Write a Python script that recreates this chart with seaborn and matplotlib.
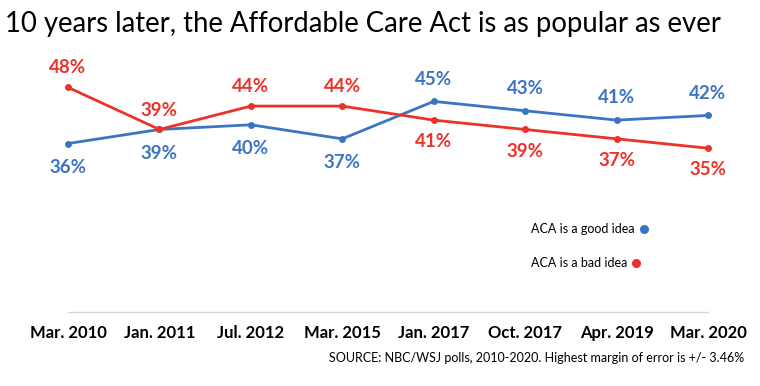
import pandas as pd
import matplotlib.pyplot as plt
import seaborn as sns

# Datos
polls = ["Mar. 2010", "Jan. 2011", "Jul. 2012", "Mar. 2015",
         "Jan. 2017", "Oct. 2017", "Apr. 2019", "Mar. 2020"]
good_idea = [36, 39, 40, 37, 45, 43, 41, 42]
bad_idea = [48, 39, 44, 44, 41, 39, 37, 35]

BLUE = "#3B74C2"
RED = "#EC3229"
W, H = 760, 386


def main():
    sns.set_style("white")
    plt.rcParams['font.family'] = ['Lato', 'DejaVu Sans']

    df = pd.DataFrame({
        "poll": polls * 2,
        "value": good_idea + bad_idea,
        "serie": ["good"] * len(polls) + ["bad"] * len(polls),
    })

    fig = plt.figure(figsize=(W / 100, H / 100), dpi=100)
    # area de trazado en pixeles: x 68..708, eje en y=312
    left, right = 68 / W, 708 / W
    bottom = 1 - 312 / H
    height = 60 * 4.68 / H
    ax = fig.add_axes([left, bottom, right - left, height])

    sns.lineplot(data=df, x="poll", y="value", hue="serie",
                 palette={"good": BLUE, "bad": RED}, hue_order=["good", "bad"],
                 marker="o", markersize=5, markeredgewidth=0, linewidth=2,
                 sort=False, legend=False, ax=ax, clip_on=False)

    ax.set_xlim(0, len(polls) - 1)
    ax.set_ylim(0, 60)
    for s in ["top", "right", "left"]:
        ax.spines[s].set_visible(False)
    ax.spines["bottom"].set_color("#D9D9D9")
    ax.spines["bottom"].set_linewidth(1)
    ax.set_yticks([])
    ax.set_xlabel("")
    ax.set_ylabel("")
    ax.tick_params(axis="x", direction="inout", length=7, width=1,
                   color="#D9D9D9", pad=6)
    ax.set_xticks(range(len(polls)))
    ax.set_xticklabels(polls, fontsize=12, fontweight="bold", color="black")

    # Etiquetas de valores
    for i, (g, b) in enumerate(zip(good_idea, bad_idea)):
        first_half = i < 4
        ax.annotate(f"{g}%", (i, g), xytext=(0, -17 if first_half else 16),
                    textcoords="offset points", ha="center", va="center",
                    fontsize=13.5, fontweight="bold", color=BLUE)
        ax.annotate(f"{b}%", (i, b), xytext=(0, 14 if first_half else -15.5),
                    textcoords="offset points", ha="center", va="center",
                    fontsize=13.5, fontweight="bold", color=RED)

    fig.text(5 / W, 1 - 24 / H, "10 years later, the Affordable Care Act is as popular as ever",
             fontsize=19.8, ha="left", va="center", color="black")
    fig.text(744 / W, 1 - 358 / H,
             "SOURCE: NBC/WSJ polls, 2010-2020. Highest margin of error is +/- 3.46%",
             fontsize=9, ha="right", va="center", color="black")

    # Leyenda manual
    fig.canvas.draw()
    renderer = fig.canvas.get_renderer()
    for label, color, ypix in [("ACA is a good idea", BLUE, 229),
                               ("ACA is a bad idea", RED, 263)]:
        t = fig.text(531 / W, 1 - ypix / H, label, fontsize=9,
                     ha="left", va="center", color="black")
        bb = t.get_window_extent(renderer)
        fig.add_artist(plt.Line2D([(bb.x1 + 9) / W], [1 - ypix / H],
                                  marker="o", markersize=6.5, color=color,
                                  markeredgewidth=0, transform=fig.transFigure))

    plt.savefig("out.png", dpi=100)
    plt.close()


if __name__ == "__main__":
    main()
